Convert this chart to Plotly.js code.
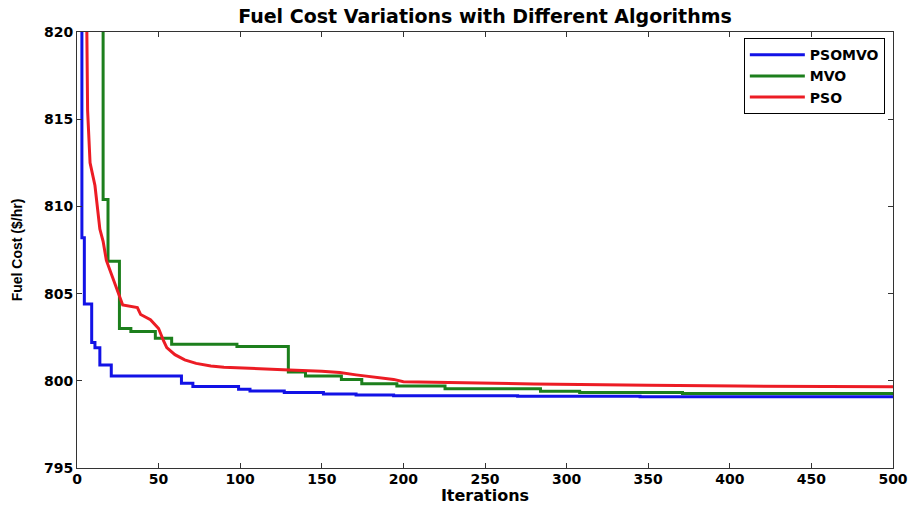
<!DOCTYPE html>
<html>
<head>
<meta charset="utf-8">
<script src="https://cdn.plot.ly/plotly-3.0.1.min.js"></script>
<style>html,body{margin:0;padding:0;background:#fff;}#chart{width:911px;height:505px;}</style>
</head>
<body>
<div id="chart"></div>
<script>
// PSOMVO (step curve)
var psomvoIter = [1, 3, 4.5, 9, 11, 14, 21, 64, 71, 99, 106, 127, 151, 171, 194, 270, 345, 500];
var psomvoCost = [840, 808.2, 804.4, 802.2, 801.9, 800.9, 800.27, 799.86, 799.67, 799.52, 799.42, 799.33, 799.25, 799.19, 799.14, 799.11, 799.09, 799.08];

// MVO (step curve)
var mvoIter = [12, 16, 19, 26, 33, 48, 58, 98, 129.5, 140, 162, 174.5, 196, 225.5, 284, 308, 371, 500];
var mvoCost = [840, 810.4, 806.85, 803.0, 802.82, 802.44, 802.1, 801.97, 800.5, 800.28, 800.08, 799.83, 799.7, 799.55, 799.4, 799.33, 799.27, 799.27];

// PSO
var psoIter = [5, 6.5, 8, 11, 14, 16, 18, 21, 24, 28, 37, 39, 45, 50, 53, 55, 60, 66, 73, 82, 90, 102, 130, 150, 161, 171, 185, 194, 200, 225, 280, 350, 405, 500];
var psoCost = [830, 815.5, 812.5, 811.2, 808.7, 808.0, 806.9, 806.1, 805.4, 804.35, 804.2, 803.8, 803.5, 803.0, 802.3, 801.9, 801.5, 801.2, 801.0, 800.85, 800.78, 800.72, 800.62, 800.55, 800.47, 800.34, 800.2, 800.08, 799.95, 799.9, 799.82, 799.75, 799.7, 799.66];

var xTicks = [0, 50, 100, 150, 200, 250, 300, 350, 400, 450, 500];
var yTicks = [795, 800, 805, 810, 815, 820];

var traces = [
  {x: psomvoIter, y: psomvoCost, name: 'PSOMVO', mode: 'lines', line: {color: '#1212e6', width: 3, shape: 'hv'}},
  {x: mvoIter, y: mvoCost, name: 'MVO', mode: 'lines', line: {color: '#1c7f1c', width: 3, shape: 'hv'}},
  {x: psoIter, y: psoCost, name: 'PSO', mode: 'lines', line: {color: '#ec1c24', width: 3}}
];

var tickFont = {family: 'DejaVu Sans', size: 14, color: '#000', weight: 'bold'};

var layout = {
  width: 911, height: 505,
  margin: {l: 77, r: 18, t: 32, b: 37, pad: 0},
  paper_bgcolor: '#fff', plot_bgcolor: '#fff',
  showlegend: true,
  title: {
    text: 'Fuel Cost Variations with Different Algorithms',
    font: {family: 'DejaVu Sans', size: 19, color: '#000', weight: 'bold'},
    xref: 'paper', x: 0.5, xanchor: 'center',
    yref: 'container', y: 0.968, yanchor: 'middle'
  },
  xaxis: {
    range: [0, 500], tickvals: xTicks, ticktext: xTicks.map(String),
    ticks: 'inside', ticklen: 5, tickcolor: '#333', mirror: 'ticks',
    showline: true, linecolor: '#333', linewidth: 1,
    showgrid: false, zeroline: false, tickfont: tickFont,
    ticklabelstandoff: -2,
    title: {text: 'Iterations', font: {family: 'DejaVu Sans', size: 16, color: '#000', weight: 'bold'}, standoff: 4}
  },
  yaxis: {
    range: [795, 820], tickvals: yTicks, ticktext: yTicks.map(String),
    ticks: 'inside', ticklen: 5, tickcolor: '#333', mirror: 'ticks',
    showline: true, linecolor: '#333', linewidth: 1,
    showgrid: false, zeroline: false, tickfont: tickFont,
    title: {text: 'Fuel Cost ($/hr)', font: {family: 'Liberation Sans', size: 14, color: '#000', weight: 'bold'}, standoff: 18}
  },
  legend: {
    x: 0.99, xanchor: 'right', y: 0.986, yanchor: 'top',
    bgcolor: '#fff', bordercolor: '#000', borderwidth: 1,
    font: {family: 'DejaVu Sans', size: 14, color: '#000', weight: 'bold'},
    itemwidth: 55, tracegroupgap: 0
  }
};

Plotly.newPlot('chart', traces, layout, {displayModeBar: false, staticPlot: true});
</script>
</body>
</html>
